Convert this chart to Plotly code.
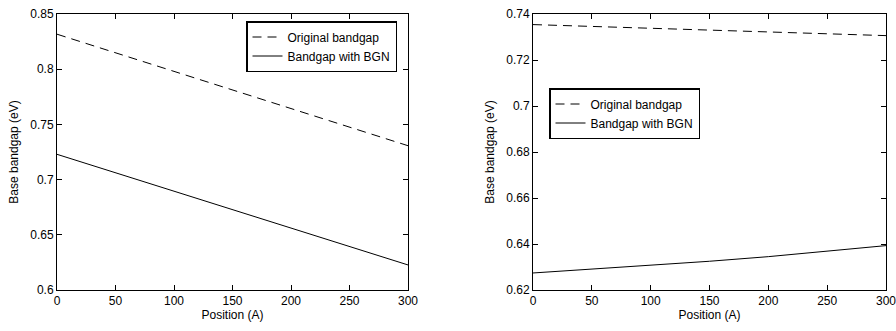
import plotly.graph_objects as go

position = [0, 50, 100, 150, 200, 250, 300]
left_original = [0.8317, 0.8149, 0.7980, 0.7812, 0.7643, 0.7475, 0.7307]
left_bgn = [0.7229, 0.7062, 0.6895, 0.6728, 0.6561, 0.6394, 0.6227]
right_original = [0.7354, 0.7346, 0.7338, 0.7330, 0.7322, 0.7314, 0.7306]
right_bgn = [0.6274, 0.6290, 0.6307, 0.6325, 0.6345, 0.6368, 0.6393]

FONT = "Liberation Sans, Arial, Helvetica, sans-serif"
FS = 12
W, H = 896, 331
TOP, BOT = 14, 290
PH = BOT - TOP

fig = go.Figure()
dash = "9px,6px"
fig.add_trace(go.Scatter(x=position, y=left_original, mode="lines", name="Original bandgap",
                         line=dict(color="black", width=1, dash=dash), xaxis="x", yaxis="y", legend="legend"))
fig.add_trace(go.Scatter(x=position, y=left_bgn, mode="lines", name="Bandgap with BGN",
                         line=dict(color="black", width=1), xaxis="x", yaxis="y", legend="legend"))
fig.add_trace(go.Scatter(x=position, y=right_original, mode="lines", name="Original bandgap",
                         line=dict(color="black", width=1, dash=dash), xaxis="x2", yaxis="y2", legend="legend2"))
fig.add_trace(go.Scatter(x=position, y=right_bgn, mode="lines", name="Bandgap with BGN",
                         line=dict(color="black", width=1), xaxis="x2", yaxis="y2", legend="legend2"))

axis_common = dict(showline=True, linecolor="black", linewidth=1, mirror="ticks", ticks="inside",
                   ticklen=5, tickcolor="black", showgrid=False, zeroline=False,
                   ticklabeloverflow="allow",
                   tickfont=dict(family=FONT, size=FS, color="black"))

fig.update_layout(
    width=W, height=H,
    margin=dict(l=0, r=0, t=TOP, b=H - BOT, autoexpand=False),
    paper_bgcolor="white", plot_bgcolor="white",
    font=dict(family=FONT, size=FS, color="black"),
    showlegend=True,
    xaxis=dict(domain=[57 / W, 408 / W], range=[0, 300], tickvals=[0, 50, 100, 150, 200, 250, 300],
               title=dict(text="Position (A)", standoff=2, font=dict(size=FS)), anchor="y", **axis_common),
    yaxis=dict(range=[0.6, 0.85], tickvals=[0.6, 0.65, 0.7, 0.75, 0.8, 0.85],
               ticktext=["0.6", "0.65", "0.7", "0.75", "0.8", "0.85"],
               title=dict(text="Base bandgap (eV)", standoff=9, font=dict(size=FS)), anchor="x", **axis_common),
    xaxis2=dict(domain=[533 / W, 886 / W], range=[0, 300], tickvals=[0, 50, 100, 150, 200, 250, 300],
                title=dict(text="Position (A)", standoff=2, font=dict(size=FS)), anchor="y2", **axis_common),
    yaxis2=dict(range=[0.62, 0.74], tickvals=[0.62, 0.64, 0.66, 0.68, 0.70, 0.72, 0.74],
                ticktext=["0.62", "0.64", "0.66", "0.68", "0.7", "0.72", "0.74"],
                title=dict(text="Base bandgap (eV)", standoff=9, font=dict(size=FS)), anchor="x2", **axis_common),
    legend=dict(x=246 / W, y=(BOT - 21) / PH, xref="paper", yref="paper", xanchor="left", yanchor="top",
                bgcolor="white", bordercolor="black", borderwidth=1.5, tracegroupgap=0,
                font=dict(family=FONT, size=FS), itemwidth=30),
    legend2=dict(x=549 / W, y=(BOT - 88) / PH, xref="paper", yref="paper", xanchor="left", yanchor="top",
                 bgcolor="white", bordercolor="black", borderwidth=1.5, tracegroupgap=0,
                 font=dict(family=FONT, size=FS), itemwidth=30),
)

fig.write_html("out.html")
